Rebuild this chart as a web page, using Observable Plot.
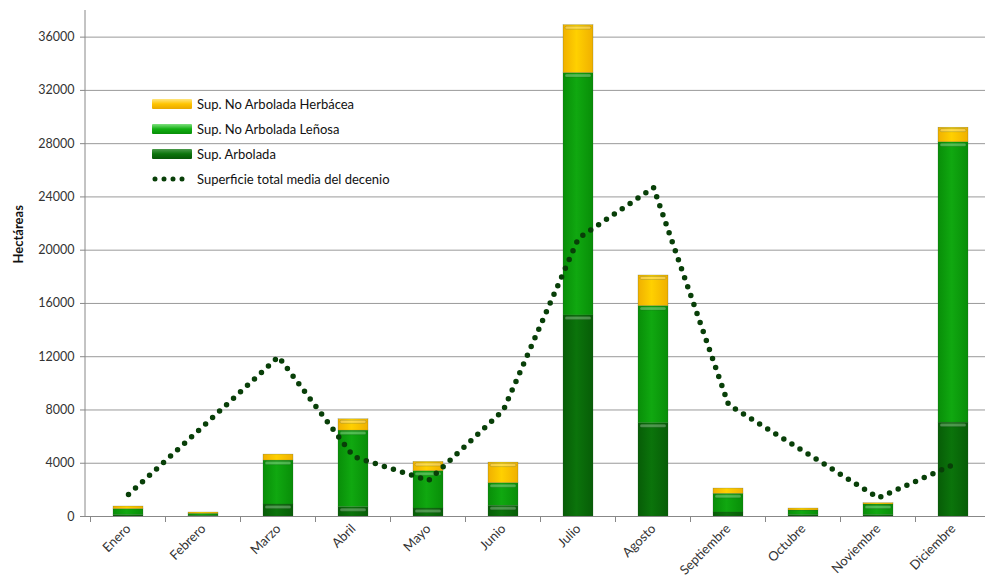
<!DOCTYPE html>
<html><head><meta charset="utf-8">
<script src="https://cdn.jsdelivr.net/npm/d3@7"></script>
<script src="https://cdn.jsdelivr.net/npm/@observablehq/plot@0.6"></script>
<style>
body{margin:0;background:#fff;overflow:hidden;font-family:Lato,"Open Sans",sans-serif;}
#wrap{position:relative;width:985px;height:585px;overflow:hidden;}
#legend{position:absolute;left:152px;top:91px;font-size:13px;color:#111;font-family:Lato,sans-serif;}
.row{display:flex;align-items:center;height:25px;}
.sw{width:40px;height:10px;margin-right:5px;border-radius:1px;}
.dots{width:40px;height:10px;margin-right:5px;}
</style></head><body><div id="wrap"><div id="legend"></div></div>
<script>
const months = ["Enero","Febrero","Marzo","Abril","Mayo","Junio","Julio","Agosto","Septiembre","Octubre","Noviembre","Diciembre"];
const arbolada = [100, 50, 900, 700, 600, 800, 15100, 7000, 300, 100, 100, 7050];
const lenosa   = [450, 150, 3300, 5750, 2800, 1700, 18200, 8800, 1400, 350, 800, 21050];
const herbacea = [200, 100, 450, 850, 700, 1550, 3600, 2300, 400, 150, 100, 1100];
const media    = [1650, 6800, 12000, 4500, 2700, 8000, 20900, 24700, 8400, 4900, 1400, 3900];
const series = ["Sup. Arbolada", "Sup. No Arbolada Leñosa", "Sup. No Arbolada Herbácea"];
const yTicks = [0, 4000, 8000, 12000, 16000, 20000, 24000, 28000, 32000, 36000];

const bars = months.flatMap((m, i) => [
  {month: m, serie: series[0], value: arbolada[i]},
  {month: m, serie: series[1], value: lenosa[i]},
  {month: m, serie: series[2], value: herbacea[i]}
]);
const line = months.map((m, i) => ({month: m, value: media[i]}));

const plot = Plot.plot({
  width: 996, height: 585,
  marginLeft: 85, marginRight: 0, marginTop: 10, marginBottom: 69,
  style: {fontFamily: "Lato, 'Open Sans', sans-serif", color: "#333", background: "white"},
  x: {domain: months, paddingInner: 0.6, paddingOuter: 0.3},
  y: {domain: [0, 38000]},
  color: {domain: series, range: ["url(#gArb)", "url(#gLen)", "url(#gHer)"]},
  marks: [
    Plot.gridY(yTicks, {stroke: "#9a9a9a", strokeOpacity: 1}),
    Plot.axisY(yTicks, {tickSize: 5, tickPadding: 6, tickFormat: d => String(d), fontSize: 12.5, label: null, stroke: "#888"}),
    Plot.axisX({tickRotate: -45, tickSize: 0, tickPadding: 10, fontSize: 13, label: null}),
    Plot.barY(bars, Plot.stackY({x: "month", y: "value", fill: "serie", order: series, stroke: "#2a4d2a", strokeWidth: 0.4, strokeOpacity: 0.5, className: "segs"})),
    Plot.ruleY([0], {stroke: "#888"}),
    Plot.line(line, {x: "month", y: "value", stroke: "#083f08", strokeWidth: 5.5, strokeDasharray: "0 9.5", strokeLinecap: "round"}),
    Plot.text(["Hectáreas"], {frameAnchor: "left", rotate: -90, dx: -67, fontWeight: "bold", fontSize: 13, fill: "#111"})
  ]
});

// gradients for the bar fills
const svg = d3.select(plot);
const defs = svg.insert("defs", ":first-child");
function grad(id, edge, mid) {
  const g = defs.append("linearGradient").attr("id", id).attr("x1", "0").attr("x2", "1").attr("y1", "0").attr("y2", "0");
  g.append("stop").attr("offset", "0%").attr("stop-color", edge);
  g.append("stop").attr("offset", "45%").attr("stop-color", mid);
  g.append("stop").attr("offset", "100%").attr("stop-color", edge);
}
grad("gArb", "#075d07", "#0b740b");
grad("gLen", "#088e08", "#10a810");
grad("gHer", "#f0b000", "#ffd000");

// subtle bevel highlight on top of each rendered segment
svg.selectAll(".segs rect").each(function() {
  const r = d3.select(this);
  const x = +r.attr("x"), y = +r.attr("y"), w = +r.attr("width"), h = +r.attr("height");
  if (h > 7) {
    d3.select(this.parentNode).append("rect")
      .attr("x", x + 2).attr("y", y + 1.5).attr("width", w - 4).attr("height", 3)
      .attr("rx", 1.5).attr("fill", "white").attr("fill-opacity", 0.28);
  }
});

// axis lines and category boundary ticks using Plot's scales
const xs = plot.scale("x"), ys = plot.scale("y");
const y0 = ys.apply(0);
const xLeft = xs.range[0];
svg.append("line").attr("x1", xLeft).attr("x2", xLeft).attr("y1", ys.apply(38000)).attr("y2", y0).attr("stroke", "#888");
const gap = (xs.step - xs.bandwidth) / 2;
const bounds = months.map(m => xs.apply(m) - gap).concat([xs.apply(months[months.length - 1]) + xs.bandwidth + gap]);
svg.append("g").selectAll("line").data(bounds).join("line")
  .attr("x1", d => d).attr("x2", d => d).attr("y1", y0).attr("y2", y0 + 6).attr("stroke", "#888");

svg.style("max-width", "none").style("width", "996px").style("height", "585px")
   .style("position", "absolute").style("left", "0").style("top", "0");
document.getElementById("wrap").prepend(plot);

// legend
const legendItems = [
  {label: "Sup. No Arbolada Herbácea", fill: "linear-gradient(#ffe680,#ffc400 50%,#e8a800)"},
  {label: "Sup. No Arbolada Leñosa", fill: "linear-gradient(#7fe07f,#12b012 50%,#088e08)"},
  {label: "Sup. Arbolada", fill: "linear-gradient(#4a9a4a,#0b740b 50%,#065606)"}
];
const leg = d3.select("#legend");
legendItems.forEach(it => {
  const r = leg.append("div").attr("class", "row");
  r.append("div").attr("class", "sw").style("background", it.fill);
  r.append("span").text(it.label);
});
const r4 = leg.append("div").attr("class", "row");
const ds = r4.append("svg").attr("class", "dots").attr("width", 40).attr("height", 10);
ds.append("line").attr("x1", 3).attr("x2", 38).attr("y1", 5).attr("y2", 5)
  .attr("stroke", "#083f08").attr("stroke-width", 5).attr("stroke-dasharray", "0 9").attr("stroke-linecap", "round");
r4.append("span").text("Superficie total media del decenio");
</script></body></html>
